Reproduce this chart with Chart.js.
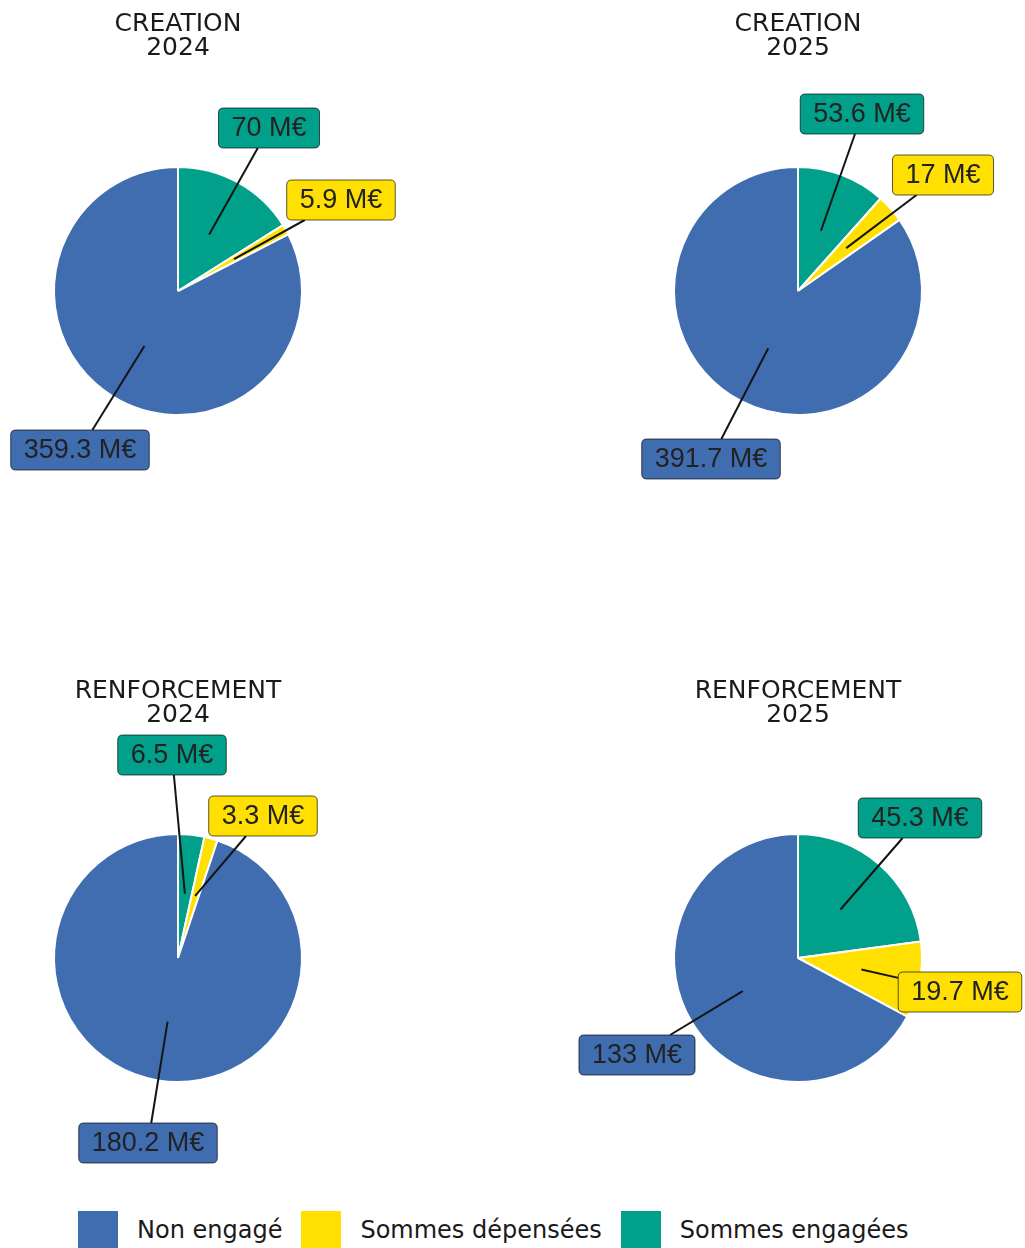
<!DOCTYPE html>
<html lang="fr">
<head>
<meta charset="utf-8">
<title>Création / Renforcement</title>
<script src="https://cdn.jsdelivr.net/npm/chart.js@4/dist/chart.umd.min.js"></script>
<style>
  html, body { margin: 0; padding: 0; background: #fff; }
  body { width: 1025px; height: 1248px; position: relative; overflow: hidden; }
  .panel { position: absolute; width: 512px; height: 510px; }
  .legend { position: absolute; left: 78px; top: 1211px; display: flex; align-items: center;
    font-family: 'DejaVu Sans', sans-serif; font-size: 24px; color: #1a1a1a; }
  .legend .sw { width: 40px; height: 38px; margin-right: 19px; }
  .legend .txt { margin-right: 19px; }
</style>
</head>
<body>
<div class="panel" style="left:-72px;top:0"><canvas id="c0" width="512" height="510"></canvas></div>
<div class="panel" style="left:548px;top:0"><canvas id="c1" width="512" height="510"></canvas></div>
<div class="panel" style="left:-72px;top:667px"><canvas id="c2" width="512" height="510"></canvas></div>
<div class="panel" style="left:548px;top:667px"><canvas id="c3" width="512" height="510"></canvas></div>
<div class="legend" id="legende"></div>

<script>
// données (M€)
var categories = ['Sommes engagées', 'Sommes dépensées', 'Non engagé'];
var typesAide = ['CREATION', 'CREATION', 'RENFORCEMENT', 'RENFORCEMENT'];
var annees = ['2024', '2025', '2024', '2025'];
var engagees = [70, 53.6, 6.5, 45.3];
var depensees = [5.9, 17, 3.3, 19.7];
var nonEngage = [359.3, 391.7, 180.2, 133];
var legendeOrdre = ['Non engagé', 'Sommes dépensées', 'Sommes engagées'];

var couleurs = {
  'Sommes engagées': '#00a08a',
  'Sommes dépensées': '#ffe000',
  'Non engagé': '#3f6db0'
};

// placement des étiquettes (décalage depuis le centre du camembert), comme ggrepel
var placements = [
  [[91, -163], [163, -91], [-98, 159]],
  [[64, -177], [145, -116], [-87, 168]],
  [[-6, -203], [85, -142], [-30, 185]],
  [[122, -140], [162, 34], [-161, 97]]
];

function fmt(v) { return String(v) + ' M€'; }

function roundRect(ctx, x, y, w, h, r) {
  ctx.beginPath();
  ctx.moveTo(x + r, y);
  ctx.lineTo(x + w - r, y);
  ctx.quadraticCurveTo(x + w, y, x + w, y + r);
  ctx.lineTo(x + w, y + h - r);
  ctx.quadraticCurveTo(x + w, y + h, x + w - r, y + h);
  ctx.lineTo(x + r, y + h);
  ctx.quadraticCurveTo(x, y + h, x, y + h - r);
  ctx.lineTo(x, y + r);
  ctx.quadraticCurveTo(x, y, x + r, y);
  ctx.closePath();
}

var etiquettes = {
  id: 'etiquettes',
  afterDatasetsDraw: function (chart, args, opts) {
    var ctx = chart.ctx;
    var meta = chart.getDatasetMeta(0);
    var ds = chart.data.datasets[0];
    ctx.save();
    ctx.font = '27px "Liberation Sans", Arial, sans-serif';
    var boites = meta.data.map(function (arc, i) {
      var p = arc.getProps(['x', 'y', 'startAngle', 'endAngle', 'outerRadius'], true);
      var mid = (p.startAngle + p.endAngle) / 2;
      var ax = p.x + Math.cos(mid) * p.outerRadius * 0.52;
      var ay = p.y + Math.sin(mid) * p.outerRadius * 0.52;
      var txt = fmt(ds.data[i]);
      var w = ctx.measureText(txt).width + 26;
      var h = 40;
      var cx = p.x + opts.pos[i][0], cy = p.y + opts.pos[i][1];
      return { ax: ax, ay: ay, cx: cx, cy: cy, w: w, h: h, txt: txt, fill: ds.backgroundColor[i] };
    });
    // segments sous les étiquettes
    ctx.strokeStyle = '#141414';
    ctx.lineWidth = 2;
    boites.forEach(function (b) {
      var dx = b.cx - b.ax, dy = b.cy - b.ay;
      var tx = dx !== 0 ? (b.w / 2) / Math.abs(dx) : Infinity;
      var ty = dy !== 0 ? (b.h / 2) / Math.abs(dy) : Infinity;
      var t = Math.min(tx, ty);
      if (t >= 1) return;
      ctx.beginPath();
      ctx.moveTo(b.ax, b.ay);
      ctx.lineTo(b.cx - dx * t, b.cy - dy * t);
      ctx.stroke();
    });
    boites.forEach(function (b) {
      roundRect(ctx, b.cx - b.w / 2, b.cy - b.h / 2, b.w, b.h, 5);
      ctx.fillStyle = b.fill;
      ctx.fill();
      ctx.strokeStyle = 'rgba(0,0,0,0.65)';
      ctx.lineWidth = 1;
      ctx.stroke();
      ctx.fillStyle = '#222';
      ctx.textAlign = 'center';
      ctx.textBaseline = 'middle';
      ctx.fillText(b.txt, b.cx, b.cy + 1);
    });
    ctx.restore();
  }
};

function init() {
  for (var k = 0; k < 4; k++) {
    var valeurs = [engagees[k], depensees[k], nonEngage[k]];
    new Chart(document.getElementById('c' + k), {
      type: 'pie',
      data: {
        labels: categories,
        datasets: [{
          data: valeurs,
          backgroundColor: categories.map(function (c) { return couleurs[c]; }),
          borderColor: '#ffffff',
          borderWidth: 2
        }]
      },
      options: {
        responsive: false,
        animation: false,
        layout: { padding: { left: 125, right: 137, top: 0, bottom: 94 } },
        plugins: {
          legend: { display: false },
          tooltip: { enabled: false },
          title: {
            display: true,
            text: [typesAide[k], annees[k]],
            color: '#1a1a1a',
            font: { family: "'DejaVu Sans', sans-serif", size: 25, weight: 'normal', lineHeight: 0.96 },
            padding: { top: 12, bottom: 106 }
          },
          etiquettes: { pos: placements[k] }
        }
      },
      plugins: [etiquettes]
    });
  }

  var leg = document.getElementById('legende');
  legendeOrdre.forEach(function (c) {
    var sw = document.createElement('div');
    sw.className = 'sw';
    sw.style.background = couleurs[c];
    var t = document.createElement('div');
    t.className = 'txt';
    t.textContent = c;
    leg.appendChild(sw);
    leg.appendChild(t);
  });
}

if (document.readyState === 'loading') {
  document.addEventListener('DOMContentLoaded', init);
} else {
  init();
}
</script>
</body>
</html>
